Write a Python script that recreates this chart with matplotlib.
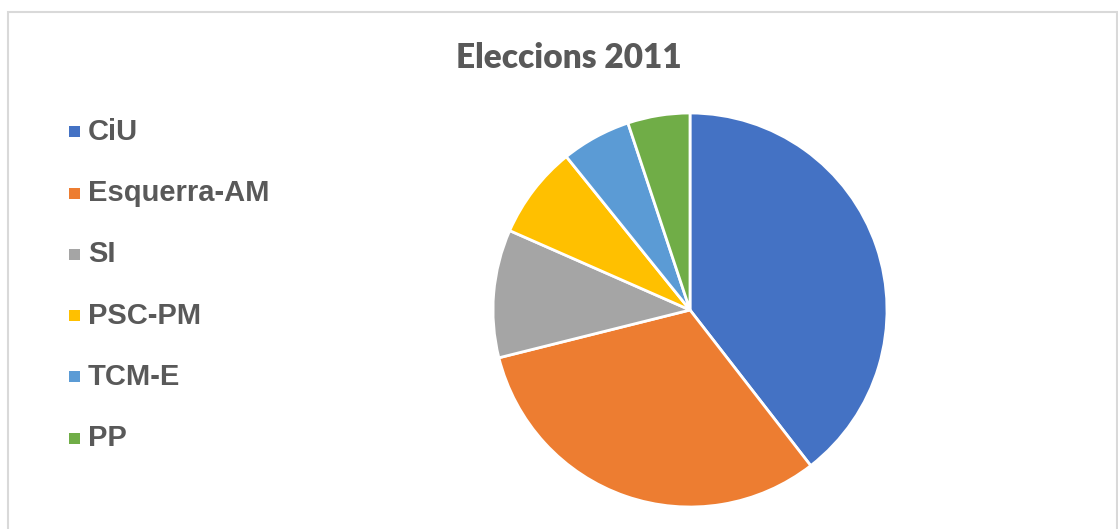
import matplotlib.pyplot as plt
from matplotlib.patches import Rectangle

parties = ["CiU", "Esquerra-AM", "SI", "PSC-PM", "TCM-E", "PP"]
shares = [39.5, 31.6, 10.5, 7.6, 5.7, 5.1]
colors = ["#4472C4", "#ED7D31", "#A5A5A5", "#FFC000", "#5B9BD5", "#70AD47"]

W, H = 1118, 529
fig = plt.figure(figsize=(W / 100, H / 100), dpi=100)

# light frame of the chart area
fig.patches.append(Rectangle((7.5 / W, -0.1), (1117 - 7.5) / W, 1.1 - 12.5 / H,
                             transform=fig.transFigure, fill=False,
                             edgecolor="#d9d9d9", lw=1.5))

# pie, centre at (690, 310) px, radius 197 px
cx, cy, r = 690, 310, 197
ax = fig.add_axes([(cx - r) / W, (H - cy - r) / H, 2 * r / W, 2 * r / H])
wedges, _ = ax.pie(shares, colors=colors, startangle=90, counterclock=False,
                   radius=1, wedgeprops=dict(edgecolor="white", linewidth=2))
ax.set_xlim(-1, 1)
ax.set_ylim(-1, 1)
ax.axis("off")

fig.text(569 / W, 1 - 58 / H, "Eleccions 2011", ha="center", va="center",
         fontsize=24, fontweight="heavy", color="#595959", family="Lato")

# legend down the left side
for i, (name, c) in enumerate(zip(parties, colors)):
    y = 132 + i * 61.2
    fig.patches.append(Rectangle((69 / W, 1 - (y + 5.5) / H), 11 / W, 11 / H,
                                 transform=fig.transFigure, facecolor=c,
                                 edgecolor="none"))
    fig.text(88 / W, 1 - y / H, name, ha="left", va="center", fontsize=21,
             fontweight="bold", color="#595959", family="Liberation Sans")

fig.savefig("out.png", dpi=100, facecolor="white")
